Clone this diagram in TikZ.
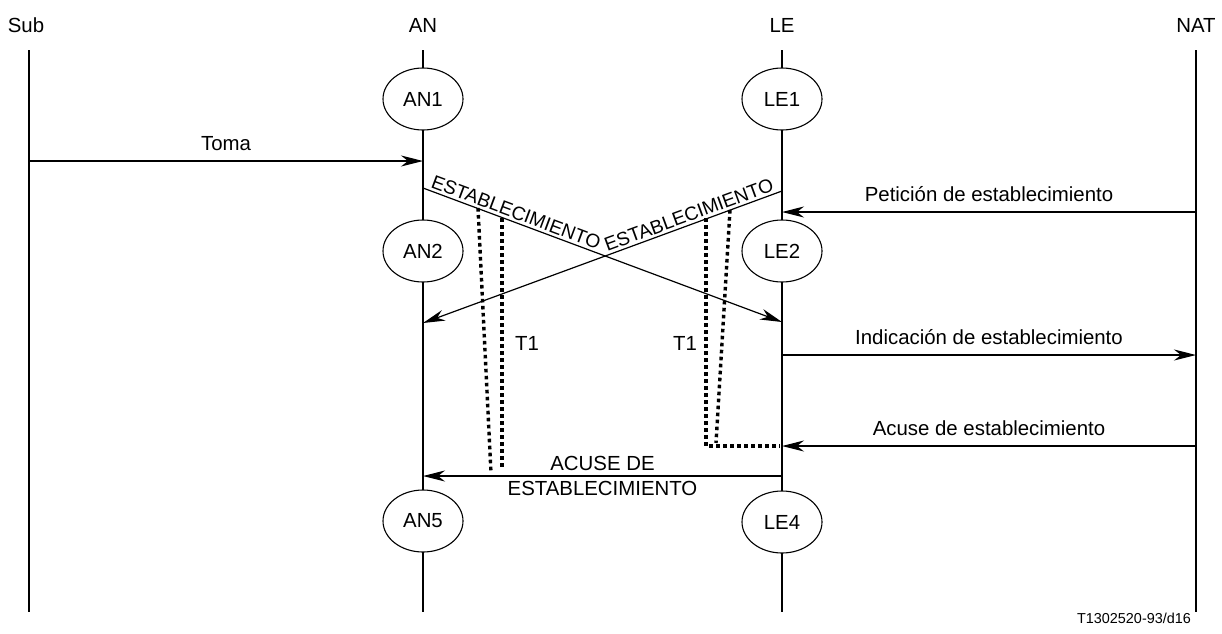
\documentclass[tikz,border=0pt]{standalone}
\usepackage{fontspec}
\setmainfont{Liberation Sans}
\usetikzlibrary{arrows.meta,shapes.geometric,positioning}

\tikzset{
  estado/.style={ellipse, draw, fill=white, line width=0.55pt, minimum width=40pt, minimum height=31pt, inner sep=0pt},
  vida/.style={line width=0.6pt},
  msg/.style={line width=0.6pt, -{Stealth[length=11pt,width=5.5pt,inset=3.5pt]}},
  etiq/.style={above=1.5pt},
  cruce/.style={sloped, above, inner sep=1.2pt, pos=0.25, font=\fontsize{9.6}{11}\selectfont},
  temp/.style={line width=1.7pt, dash pattern=on 1.8pt off 1.7pt},
}

\begin{document}
\begin{tikzpicture}[x=0.5pt,y=-0.5pt,font=\fontsize{10.2}{12.5}\selectfont]
\useasboundingbox (0,0) rectangle (1222,633);
% entidades y lineas de vida
\node (sub) at (26,25) {Sub};
\node (an) at (423,25) {AN};
\node (le) at (782,25) {LE};
\node (nat) at (1196,25) {NAT};
\foreach \n/\x in {sub/29, an/423, le/782, nat/1196}{
  \coordinate (\n-top) at (\x,50);
  \coordinate (\n-bot) at (\x,612);
  \draw[vida] (\n-top) -- (\n-bot);
}

% estados
\node[estado] (an1) at (423,99) {AN1};
\node[estado] (le1) at (782,99) {LE1};
\node[estado] (an2) at (423,251) {AN2};
\node[estado] (le2) at (782,251) {LE2};
\node[estado] (an5) at (423,521) {AN5};
\node[estado] (le4) at (782,522) {LE4};

% mensajes
\coordinate (toma-a) at (29,161);
\coordinate (toma-b) at (423,161);
\draw[msg] (toma-a) -- node[etiq] {Toma} (toma-b);

\coordinate (est-an) at (423,188);
\coordinate (est-le) at (782,322);
\draw[msg] (est-an) -- node[cruce] {ESTABLECIMIENTO} (est-le);

\coordinate (est2-le) at (782,191);
\coordinate (est2-an) at (423,323);
\draw[msg] (est2-le) -- node[cruce] {ESTABLECIMIENTO} (est2-an);

\coordinate (pet-nat) at (1196,212);
\coordinate (pet-le) at (782,212);
\draw[msg] (pet-nat) -- node[etiq] {Petición de establecimiento} (pet-le);

\coordinate (ind-le) at (782,355);
\coordinate (ind-nat) at (1196,355);
\draw[msg] (ind-le) -- node[etiq] {Indicación de establecimiento} (ind-nat);

\coordinate (acu-nat) at (1196,446);
\coordinate (acu-le) at (782,446);
\draw[msg] (acu-nat) -- node[etiq] {Acuse de establecimiento} (acu-le);

\coordinate (acu2-le) at (782,476);
\coordinate (acu2-an) at (423,476);
\draw[msg] (acu2-le) -- node[align=center] {ACUSE DE\\ESTABLECIMIENTO} (acu2-an);

% temporizadores T1
\draw[temp] (478,208) -- (491,473);
\draw[temp] (502,218) -- (502,468);
\draw[temp] (730,210) -- (716,443);
\draw[temp] (706,218) -- (706,446) -- (780,446);
\node (t1a) at (527,343) {T1};
\node (t1b) at (685,343) {T1};

\node[font=\fontsize{7.2}{9}\selectfont] (ref) at (1134,618) {T1302520-93/d16};
\end{tikzpicture}
\end{document}
